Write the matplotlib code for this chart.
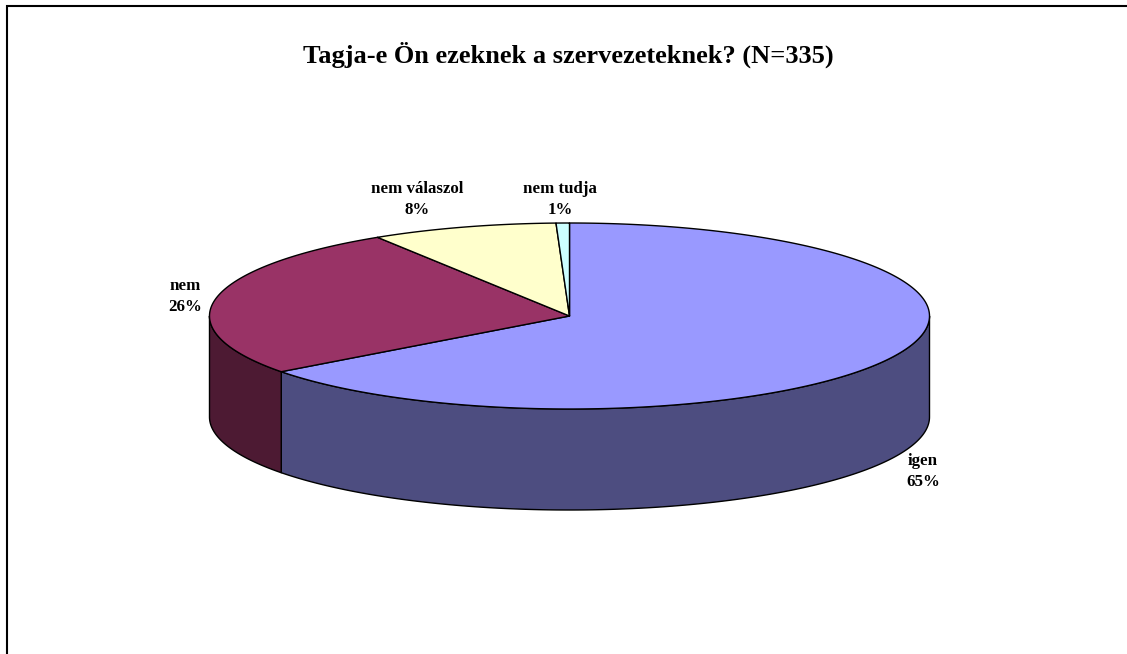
# Purpose:
# 3D looking pie chart of membership answers, drawn by hand because matplotlib has no 3D pie

import numpy as np
import matplotlib
matplotlib.use("Agg")
import matplotlib.pyplot as plt

labels = ["igen", "nem", "nem válaszol", "nem tudja"]
# answer counts out of N=335
values = [217, 88, 28, 2]
top_colors = ["#9999FF", "#993366", "#FFFFCC", "#CCFFFF"]
side_colors = ["#4D4D80", "#4D1A33", "#808066", "#668080"]
title = "Tagja-e Ön ezeknek a szervezeteknek? (N=335)"

# label centres in pixels
label_x = [923, 185, 417, 560]
label_y = [471.5, 296.5, 199.5, 199.5]

cx, cy = 569.5, 316
rx, ry = 360, 93
depth = 101


def rim(t, dy=0):
    # t is degrees clockwise from the top of the ellipse
    a = np.radians(t)
    return cx + rx * np.sin(a), cy - ry * np.cos(a) + dy


def main():
    plt.rcParams["font.family"] = ["Liberation Serif", "DejaVu Serif"]
    fig = plt.figure(figsize=(11.27, 6.54), dpi=100)
    ax = fig.add_axes([0, 0, 1, 1])
    ax.set_xlim(0, 1127)
    ax.set_ylim(654, 0)
    ax.axis("off")

    # frame, only top and left are inside the picture
    ax.plot([7, 7, 1127], [654, 6, 6], color="black", lw=1.5, solid_capstyle="butt", solid_joinstyle="miter")

    total = sum(values)
    edges = np.cumsum([0] + values) / total * 360

    # side walls, only the front half of the ellipse shows
    for i in range(len(values)):
        start = max(edges[i], 90)
        end = min(edges[i + 1], 270)
        if start >= end:
            continue
        t = np.linspace(start, end, 200)
        x, y = rim(t)
        x2, y2 = rim(t[::-1], depth)
        ax.fill(np.r_[x, x2], np.r_[y, y2], facecolor=side_colors[i], edgecolor="black", lw=1.0, joinstyle="round")

    # top faces
    for i in range(len(values)):
        t = np.linspace(edges[i], edges[i + 1], 300)
        x, y = rim(t)
        ax.fill(np.r_[cx, x], np.r_[cy, y], facecolor=top_colors[i], edgecolor="black", lw=1.0, joinstyle="round")

    ax.text(568.5, 55, title, ha="center", va="center", fontsize=19, fontweight="bold")

    for i in range(len(values)):
        pct = values[i] / total * 100
        ax.text(label_x[i], label_y[i], f"{labels[i]}\n{pct:.0f}%", ha="center", va="center",
                fontsize=12.2, fontweight="bold", linespacing=1.4)

    fig.savefig("out.png", dpi=100)


if __name__ == "__main__":
    main()
